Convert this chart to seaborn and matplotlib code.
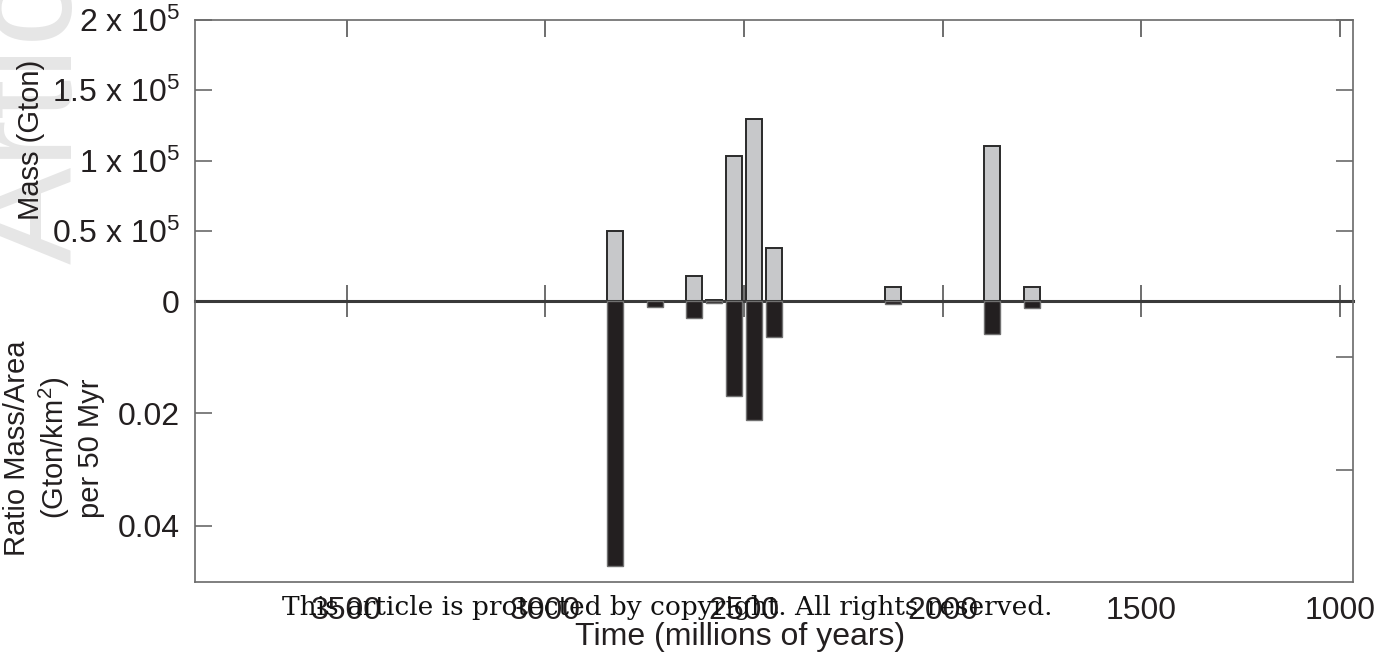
import matplotlib
matplotlib.use("Agg")
import matplotlib.pyplot as plt
import seaborn as sns
import numpy as np

# ---- data ----
time_ma = [2825, 2725, 2625, 2575, 2525, 2475, 2425, 2125, 1875, 1775]
mass_gton = [50000, 0, 17500, 1000, 103000, 129500, 37500, 9750, 110000, 10000]
ratio_mass_area = [0.0471, 0.0011, 0.0031, 0.0004, 0.0169, 0.0212, 0.0064, 0.0005, 0.0059, 0.0013]

mass_ticks = [0, 50000, 100000, 150000, 200000]
mass_ticklabels = ["0", "0.5 x 10$^5$", "1 x 10$^5$", "1.5 x 10$^5$", "2 x 10$^5$"]
ratio_ticks = [0.02, 0.04]
ratio_ticklabels = ["0.02", "0.04"]
time_ticks = [3500, 3000, 2500, 2000, 1500, 1000]
time_ticklabels = ["3500", "3000", "2500", "2000", "1500", "1000"]

sns.set_style("white")
plt.rcParams["font.family"] = ["Liberation Sans", "DejaVu Sans"]
plt.rcParams["mathtext.default"] = "regular"

W, H = 1381, 662
fig = plt.figure(figsize=(W / 100, H / 100), dpi=100)

def fx(px):
    return px / W

def fy(py):
    return 1 - py / H

left, right, top, mid, bot = 195, 1353, 20, 301, 582
ax_top = fig.add_axes([fx(left), fy(mid), fx(right - left), (mid - top) / H])
ax_bot = fig.add_axes([fx(left), fy(bot), fx(right - left), (bot - mid) / H])
for ax in (ax_top, ax_bot):
    ax.patch.set_alpha(0)

txt_col = "#231f20"
spine_col = "#6a6a6a"
grey_fill = "#c7c8ca"
black_fill = "#231f20"

sns.barplot(x=time_ma, y=mass_gton, native_scale=True, ax=ax_top, color=grey_fill,
            saturation=1, width=0.8, edgecolor="#2a2a2a", linewidth=1.4, errorbar=None)
sns.barplot(x=time_ma, y=ratio_mass_area, native_scale=True, ax=ax_bot, color=black_fill,
            saturation=1, width=0.8, edgecolor="#707070", linewidth=1.0, errorbar=None)

xlim = (3882, 967)
for ax in (ax_top, ax_bot):
    ax.set_xlim(*xlim)
    ax.set_xlabel("")
    ax.set_ylabel("")
    for s in ax.spines.values():
        s.set_color(spine_col)
        s.set_linewidth(1.2)

# top panel
ax_top.set_ylim(0, 200000)
ax_top.set_yticks(mass_ticks)
ax_top.set_yticklabels(mass_ticklabels)
ax_top.spines["bottom"].set_color("#3a3a3a")
ax_top.spines["bottom"].set_linewidth(2.2)
ax_top.spines["bottom"].set_zorder(5)
ax_top.set_xticks(time_ticks)
ax_top.tick_params(axis="x", which="major", top=True, bottom=True, labelbottom=False,
                   direction="inout", length=23, width=1.2, color="#555555")
ax_top.tick_params(axis="y", which="major", left=True, right=True, direction="in",
                   length=12, width=1.2, color=spine_col, labelsize=23,
                   labelcolor=txt_col, pad=11)
for t in ax_top.xaxis.get_major_ticks():
    t.tick2line.set_marker(3)  # downward tick at top spine
    t.tick2line.set_markersize(12)

# bottom panel
ax_bot.set_ylim(0.05, 0)
ax_bot.spines["top"].set_visible(False)
ax_bot.set_yticks(ratio_ticks)
ax_bot.set_yticklabels(ratio_ticklabels)
ax_bot.set_yticks([0.01, 0.03], minor=True)
ax_bot.tick_params(axis="y", which="major", left=True, right=False, direction="in",
                   length=12, width=1.2, color=spine_col, labelsize=23,
                   labelcolor=txt_col, pad=11)
ax_bot.tick_params(axis="y", which="minor", left=False, right=True, direction="in",
                   length=12, width=1.2, color=spine_col)
ax_bot.set_xticks(time_ticks)
ax_bot.set_xticklabels(time_ticklabels)
ax_bot.tick_params(axis="x", which="major", bottom=True, length=0, labelsize=23,
                   labelcolor=txt_col, pad=10)
ax_bot.set_xticks([3500, 1500, 1000], minor=True)
ax_bot.tick_params(axis="x", which="minor", bottom=True, direction="in", length=12,
                   width=1.2, color=spine_col)

# axis labels
fig.text(fx(740), fy(637), "Time (millions of years)", ha="center", va="center",
         fontsize=23, color=txt_col)
fig.text(fx(31), fy(140), "Mass (Gton)", ha="center", va="center", rotation=90,
         fontsize=21, color=txt_col)
fig.text(fx(54), fy(448), "Ratio Mass/Area\n(Gton/km$^2$)\nper 50 Myr", ha="center",
         va="center", rotation=90, multialignment="center", fontsize=21, color=txt_col)

# faint background watermark at left
fig.text(fx(72), fy(264), "Article", rotation=90, rotation_mode="anchor", ha="left",
         va="baseline", fontsize=105, color="#e6e6e6", zorder=-10)

# copyright notice
wm = fig.text(fx(667), fy(607), "This article is protected by copyright. All rights reserved.",
              ha="center", va="center", fontsize=18, color="#111111",
              family=["DejaVu Serif"], zorder=10)
r = fig.canvas.get_renderer()
w = wm.get_window_extent(r).width
wm.set_fontsize(18 * 770 / w)

fig.savefig("out.png", dpi=100)
